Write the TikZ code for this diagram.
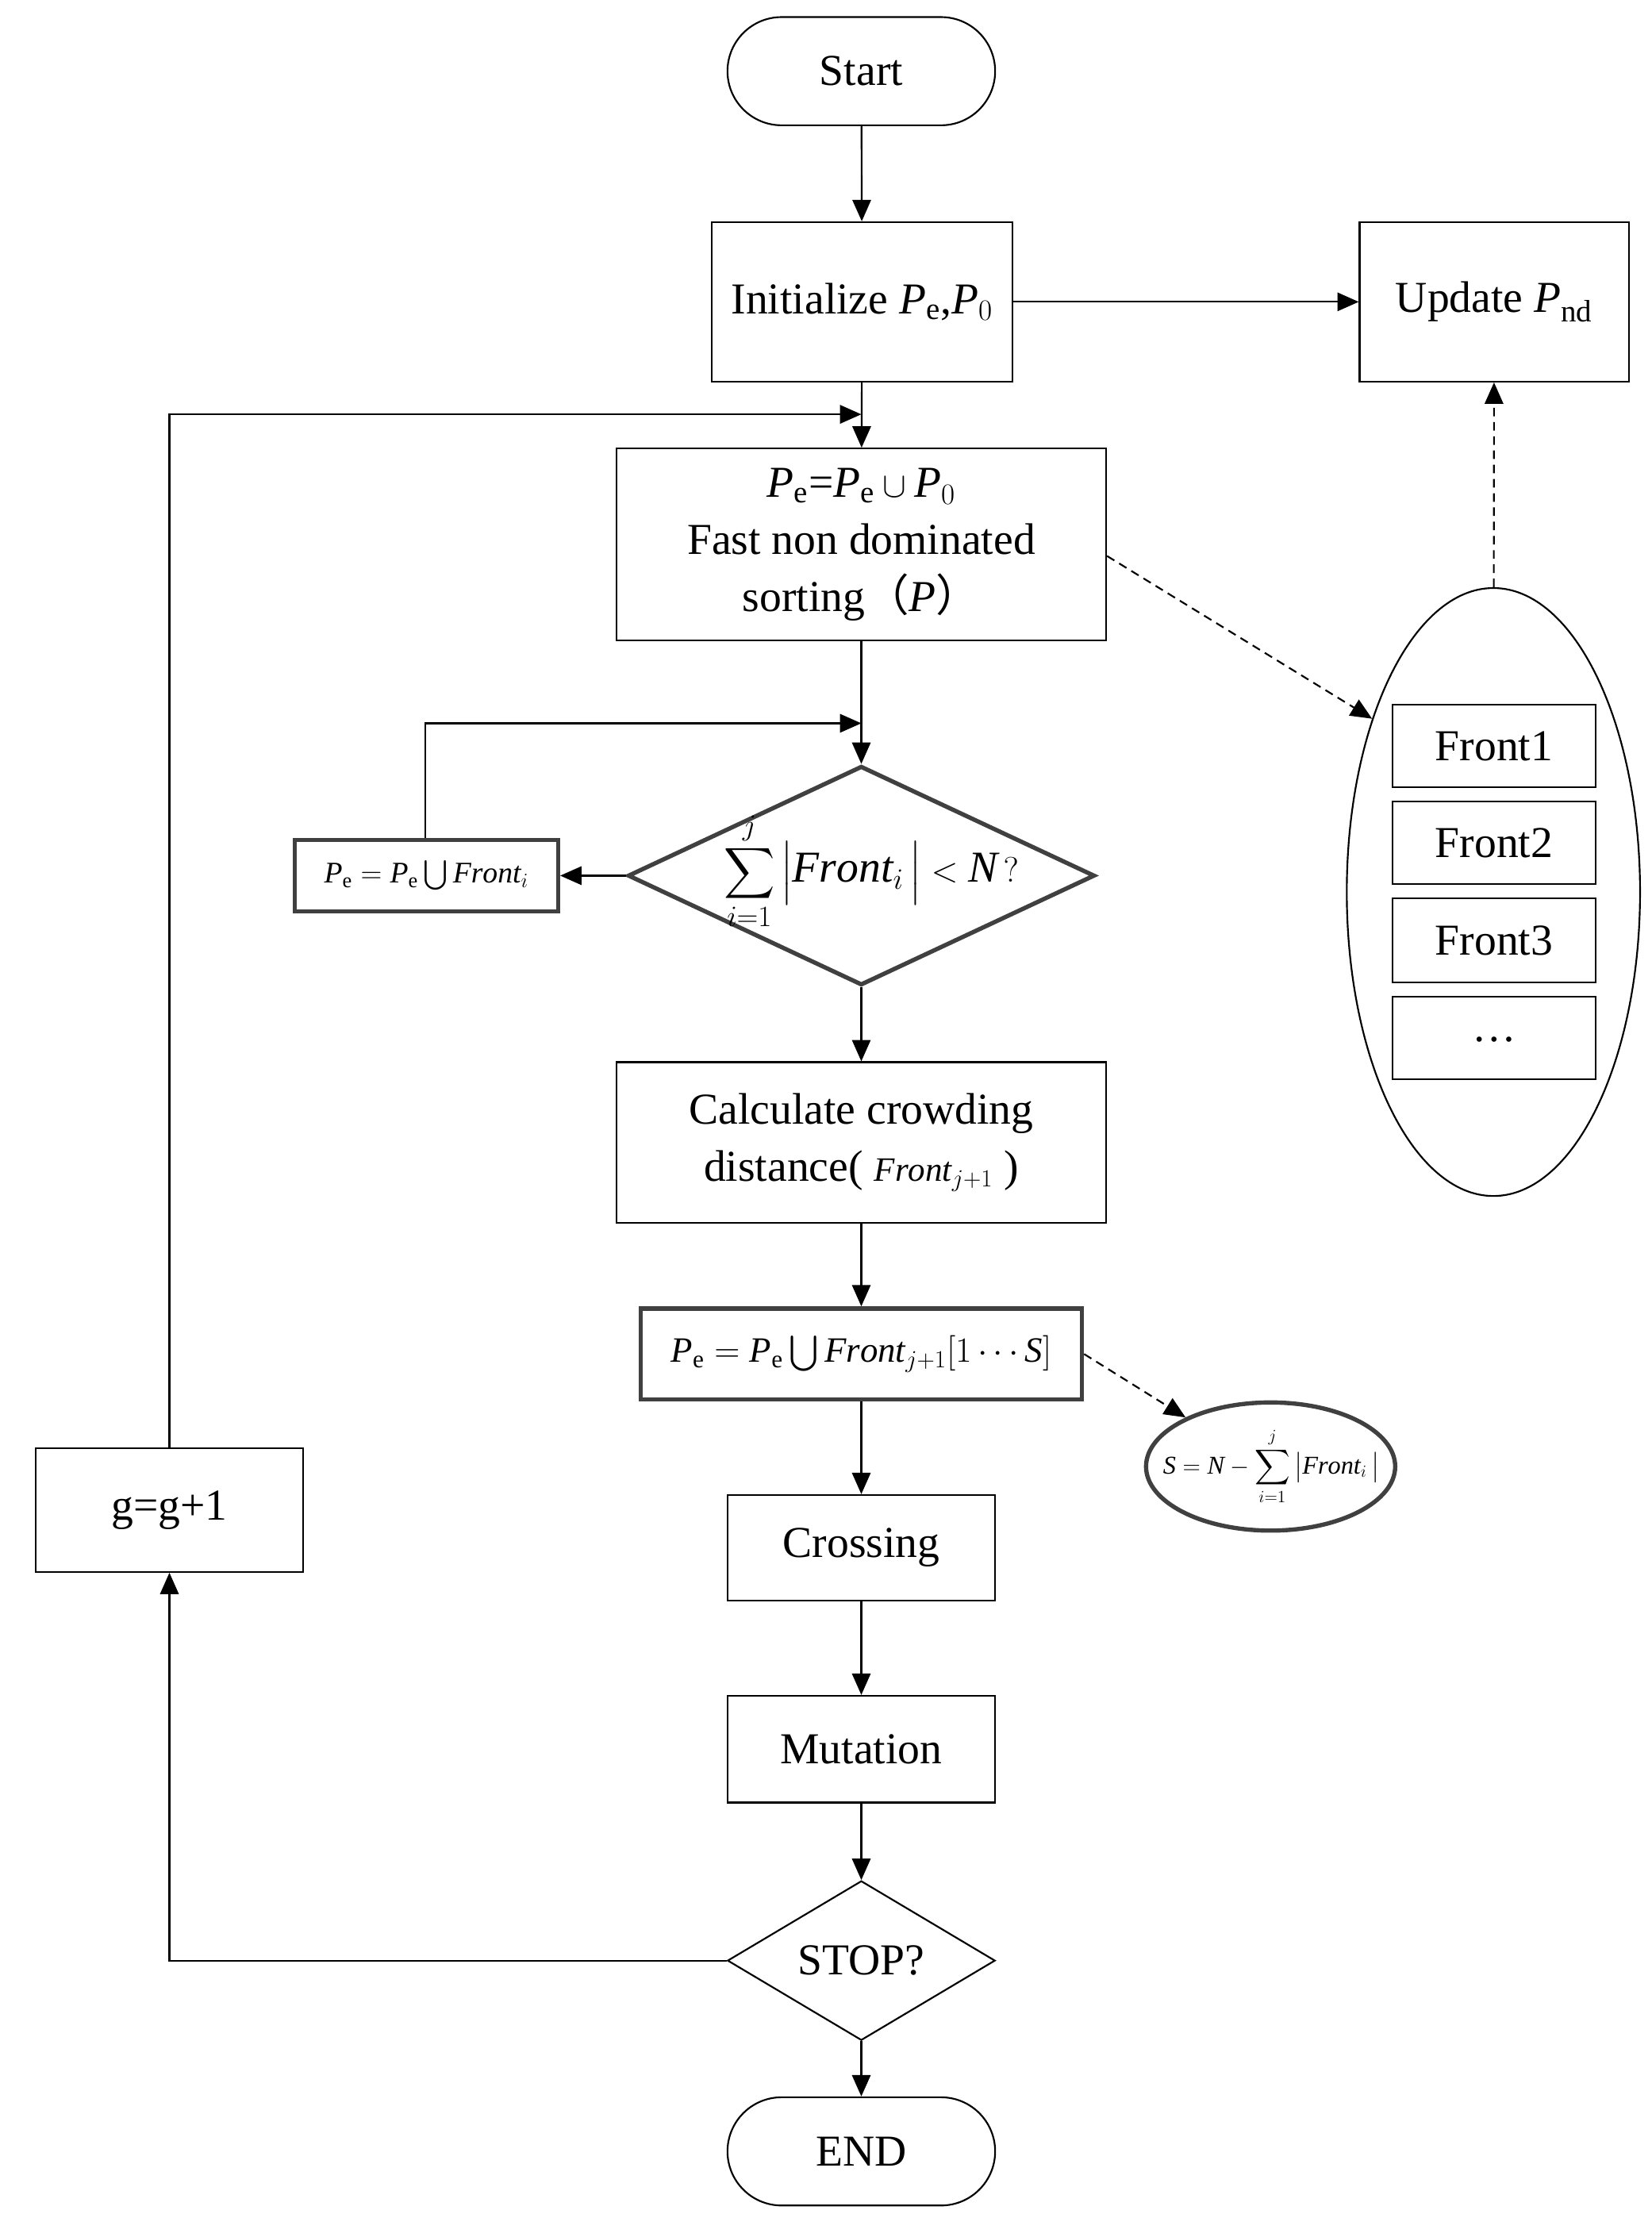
\documentclass[tikz,border=0pt]{standalone}
\usepackage{amsmath}
\usepackage{fontspec}
\setmainfont{Liberation Serif}
\newfontfamily\cjkfont{Noto Sans CJK SC}
\usetikzlibrary{arrows.meta,shapes.geometric,shapes.misc,calc}
\definecolor{dgray}{RGB}{64,64,64}
\newcommand{\Pe}{\mathit{P}_{\mathrm{e}}}
\newcommand{\Fr}{\mathit{Front}}
\begin{document}
\begin{tikzpicture}[x=1pt,y=-1pt,
  base/.style={inner sep=0pt, align=center, font=\fontsize{31}{40}\selectfont},
  box/.style={base, draw, rectangle, line width=1.2pt},
  tbox/.style={base, draw=dgray, rectangle, line width=3pt},
  term/.style={base, draw, rounded rectangle, line width=1.2pt},
  arr/.style={-{Triangle[length=15pt,width=13pt]}, line width=1.2pt},
  darr/.style={arr, dash pattern=on 6pt off 4pt}]
\useasboundingbox (0,0) rectangle (1160,1555);

% main column
\node[term, minimum width=188pt, minimum height=76pt] (start) at (605,50) {Start};
\node[box, minimum width=211pt, minimum height=112pt] (init) at (605.5,212) {Initialize $\Pe$,$\mathit{P}_0$};
\node[box, minimum width=189pt, minimum height=112pt] (update) at (1049.5,212) {Update $\mathit{P}_{\mathrm{nd}}$};
\node[box, minimum width=344pt, minimum height=135pt] (sort) at (605,382.5)
  {$\Pe$=$\Pe\cup\mathit{P}_0$\\Fast non dominated\\sorting{\cjkfont （}$\mathit{P}${\cjkfont ）}};
\node[draw=dgray, line width=3pt, diamond, inner sep=0pt, minimum width=328pt, minimum height=154pt] (d1) at (605,615) {};
\node[base] (d1t) at (612,612) {$\displaystyle\sum_{i=1}^{j}\,\Bigl|\Fr_{i}\,\Bigr| < \mathit{N}\,?$};
\node[tbox, minimum width=185pt, minimum height=50pt, font=\fontsize{21}{26}\selectfont] (left) at (299.5,615)
  {$\Pe=\Pe\bigcup\Fr_{i}$};
\node[box, minimum width=344pt, minimum height=113pt] (calc) at (605,802.5)
  {Calculate crowding\\distance( {\fontsize{24}{28}\selectfont$\Fr_{j+1}$} )};
\node[tbox, minimum width=310pt, minimum height=64pt, font=\fontsize{25}{30}\selectfont] (pe2) at (605,951)
  {$\Pe=\Pe\bigcup\Fr_{j+1}[1\cdots\mathit{S}]$};
\node[draw=dgray, line width=3pt, ellipse, inner sep=0pt, minimum width=175pt, minimum height=90pt] (sell) at (892.5,1030) {};
\node[base, font=\fontsize{18}{22}\selectfont] (sellt) at (893,1030)
  {$\mathit{S}=\mathit{N}-\displaystyle\sum_{i=1}^{j}\,\bigl|\Fr_{i}\,\bigr|$};
\node[box, minimum width=188pt, minimum height=74pt] (cross) at (605,1087) {Crossing};
\node[box, minimum width=188pt, minimum height=75pt] (mut) at (605,1228.5) {Mutation};
\node[base, draw, diamond, line width=1.2pt, minimum width=188pt, minimum height=112pt] (stop) at (605,1377) {STOP?};
\node[term, minimum width=188pt, minimum height=76pt] (end) at (605,1511) {END};
\node[box, minimum width=188pt, minimum height=87pt] (g) at (119,1060.5) {g=g+1};

% fronts
\node[draw, ellipse, line width=1.2pt, inner sep=0pt, minimum width=206pt, minimum height=427pt] (bigell) at (1049,626.5) {};
\node[box, minimum width=143pt, minimum height=58pt] (f1) at (1049.5,524) {Front1};
\node[box, minimum width=143pt, minimum height=58pt] (f2) at (1049.5,592) {Front2};
\node[box, minimum width=143pt, minimum height=59pt] (f3) at (1049.5,660.5) {Front3};
\node[box, minimum width=143pt, minimum height=58pt] (f4) at (1049.5,729) {\raisebox{-6pt}{\dots}};

% junction coordinates
\coordinate (j1) at (605,291);
\coordinate (j2) at (605,508);
\coordinate (c1) at (119,291);
\coordinate (c2) at (298.5,508);
\coordinate (c3) at (119,1377);

% connectors
\draw[arr] (start) -- (init);
\draw[arr] (init) -- (update);
\draw[arr] (init) -- (sort);
\draw[arr] (g) -- (c1) -- (j1);
\draw[arr] (sort) -- (d1);
\draw[arr] (left.north -| c2) -- (c2) -- (j2);
\draw[arr] (d1) -- (left);
\draw[arr] (d1) -- (calc);
\draw[arr] (calc) -- (pe2);
\draw[arr] (pe2) -- (cross);
\draw[arr] (cross) -- (mut);
\draw[arr] (mut) -- (stop);
\draw[arr] (stop) -- (end);
\draw[arr] (stop.west) -- (c3) -- (g);
\draw[darr] ($(sort.east)+(0,8)$) -- (bigell.125);
\draw[darr] (bigell) -- (update);
\draw[darr] (pe2.east) -- (sell.150);
\end{tikzpicture}
\end{document}
